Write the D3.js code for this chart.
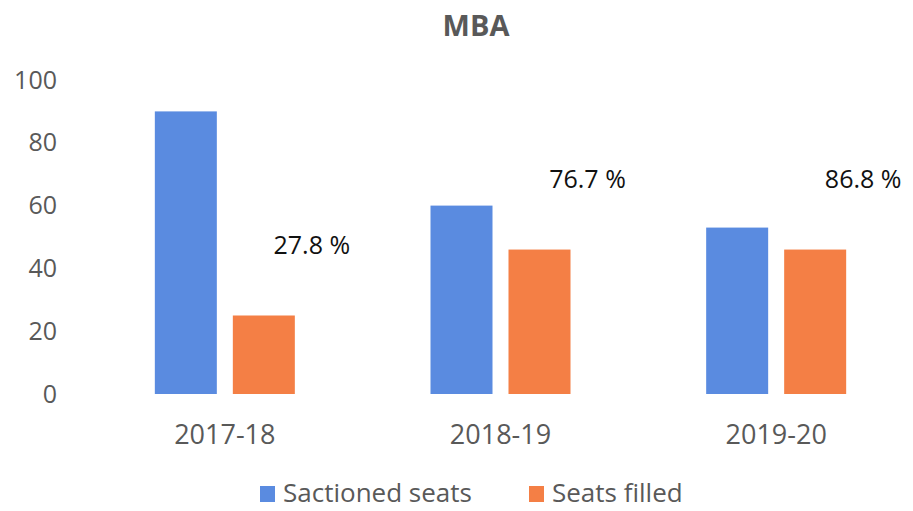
<!DOCTYPE html>
<html>
<head>
<meta charset="utf-8">
<script src="https://cdn.jsdelivr.net/npm/d3@7"></script>
<style>
  html, body { margin: 0; padding: 0; background: #fff; }
  svg { display: block; font-family: "Open Sans", "Noto Sans", sans-serif; }
</style>
</head>
<body>
<svg id="chart" width="913" height="511"></svg>
<script>
// MBA seats chart — grouped bars + fill-rate labels
var years = ["2017-18", "2018-19", "2019-20"];
var seriesNames = ["Sactioned seats", "Seats filled"];
var sanctioned = [90, 60, 53];
var filled = [25, 46, 46];
var yTicks = [0, 20, 40, 60, 80, 100];

var COLORS = ["#5a8be0", "#f47f45"];
var GREY = "#595959";

var svg = d3.select("#chart");

var x0 = d3.scaleBand().domain(years).range([87, 914]).paddingInner(0).paddingOuter(0);
var x1 = d3.scaleBand().domain(seriesNames)
  .range([x0.bandwidth() / 2 - 70, x0.bandwidth() / 2 + 70])
  .paddingInner(16 / 78).paddingOuter(0);
var y = d3.scaleLinear().domain([0, 100]).range([394, 80]);

// title
svg.append("text")
  .attr("x", 476).attr("y", 26).attr("dy", "0.35em")
  .attr("text-anchor", "middle")
  .attr("font-size", 29).attr("font-weight", 700).attr("fill", GREY)
  .text("MBA");

// y axis: labels only, no line, no ticks
var yAxis = svg.append("g").attr("transform", "translate(57,0)")
  .call(d3.axisLeft(y).tickValues(yTicks).tickSize(0).tickPadding(0));
yAxis.select(".domain").remove();
yAxis.selectAll("text")
  .attr("font-family", "'Open Sans', sans-serif")
  .attr("font-size", 25).attr("fill", GREY);

// bars
var rows = years.map(function (yr, i) {
  return { year: yr, vals: [sanctioned[i], filled[i]] };
});
var groups = svg.append("g").selectAll("g.grp").data(rows).enter()
  .append("g").attr("class", "grp")
  .attr("transform", function (d) { return "translate(" + x0(d.year) + ",0)"; });
groups.selectAll("rect")
  .data(function (d) { return d.vals.map(function (v, k) { return { key: seriesNames[k], v: v, k: k }; }); })
  .enter().append("rect")
  .attr("x", function (d) { return x1(d.key); })
  .attr("y", function (d) { return y(d.v); })
  .attr("width", x1.bandwidth())
  .attr("height", function (d) { return y(0) - y(d.v); })
  .attr("fill", function (d) { return COLORS[d.k]; });

// fill-rate labels (floating near the orange bar)
groups.append("text")
  .attr("x", function () { return x1(seriesNames[1]) + x1.bandwidth() / 2 + 48; })
  .attr("y", function (d) { return y(d.vals[1]) - 70; })
  .attr("dy", "0.35em").attr("text-anchor", "middle")
  .attr("font-size", 25).attr("fill", "#111")
  .text(function (d) { return (d.vals[1] / d.vals[0] * 100).toFixed(1) + " %"; });

// x axis labels
var xAxis = svg.append("g").attr("transform", "translate(0,435)")
  .call(d3.axisBottom(x0).tickSize(0).tickPadding(0));
xAxis.select(".domain").remove();
xAxis.selectAll("text")
  .attr("dy", "0.35em")
  .attr("font-family", "'Open Sans', sans-serif")
  .attr("font-size", 27).attr("fill", GREY);

// legend
var legX = [260, 529];
var leg = svg.append("g").selectAll("g").data(seriesNames).enter().append("g")
  .attr("transform", function (d, i) { return "translate(" + legX[i] + ",486)"; });
leg.append("rect").attr("width", 15).attr("height", 16)
  .attr("fill", function (d, i) { return COLORS[i]; });
leg.append("text").attr("x", 23).attr("y", 7).attr("dy", "0.35em")
  .attr("font-size", 26).attr("fill", GREY)
  .text(function (d) { return d; });
</script>
</body>
</html>
